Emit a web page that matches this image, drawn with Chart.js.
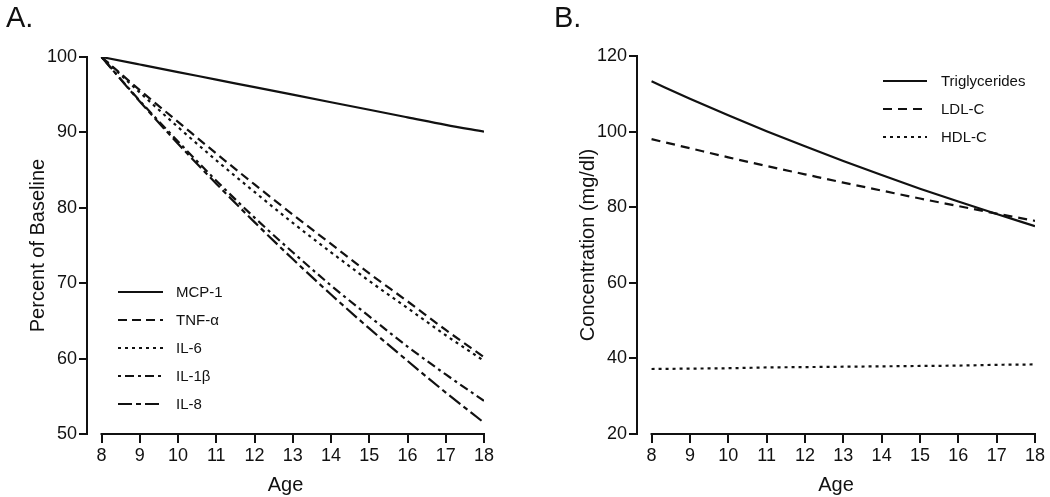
<!DOCTYPE html>
<html>
<head>
<meta charset="utf-8">
<title>Age trends</title>
<script src="https://cdn.jsdelivr.net/npm/chart.js@4.4.1/dist/chart.umd.min.js"></script>
<style>
    body { margin: 0; background: #fff; overflow: hidden; }
    .panel { position: absolute; top: 0; width: 525px; height: 497px; }
    #panel-a { left: 0; }
    #panel-b { left: 525px; }
    .panel-label {
        position: absolute; top: 3px;
        font: 29px "Liberation Sans", Arial, sans-serif;
        line-height: 29px; color: #111;
    }
</style>
</head>
<body>
<div class="panel" id="panel-a">
    <canvas id="chart-a" width="525" height="497"></canvas>
    <div class="panel-label" style="left: 6px;">A.</div>
</div>
<div class="panel" id="panel-b">
    <canvas id="chart-b" width="525" height="497"></canvas>
    <div class="panel-label" style="left: 29px;">B.</div>
</div>
<script>
// x values shared by both panels
const ages = [8, 9, 10, 11, 12, 13, 14, 15, 16, 17, 18];

// Panel A: percent of baseline
const mcp1 = [100, 99, 98, 97, 96, 95, 94, 93, 92, 91, 90.1];
const tnfAlpha = [100, 95.6, 91.4, 87.2, 83.1, 79.1, 75.2, 71.3, 67.6, 63.8, 60.2];
const il6 = [100, 95.3, 90.7, 86.3, 82.1, 78.0, 74.1, 70.3, 66.7, 63.1, 59.7];
const il1Beta = [100, 94.2, 88.8, 83.6, 78.7, 74.1, 69.7, 65.6, 61.6, 57.9, 54.4];
const il8 = [100, 94.1, 88.5, 83.2, 78.1, 73.2, 68.5, 64.0, 59.7, 55.5, 51.5];
const percentTicks = [50, 60, 70, 80, 90, 100];

// Panel B: concentration (mg/dl)
const triglycerides = [113.3, 108.7, 104.3, 100.1, 96.1, 92.2, 88.5, 84.9, 81.5, 78.2, 75.0];
const ldlC = [98.0, 95.6, 93.2, 90.9, 88.7, 86.5, 84.4, 82.3, 80.3, 78.3, 76.4];
const hdlC = [37.2, 37.3, 37.4, 37.6, 37.7, 37.8, 37.9, 38.0, 38.1, 38.3, 38.4];
const concTicks = [20, 40, 60, 80, 100, 120];

const INK = '#111';
const FONT = '"Liberation Sans", Arial, sans-serif';

function series(label, values, dash) {
    return {
        label: label,
        data: ages.map((a, i) => ({ x: a, y: values[i] })),
        borderColor: INK,
        borderWidth: 2.2,
        borderDash: dash,
        pointRadius: 0,
        fill: false,
        cubicInterpolationMode: 'monotone'
    };
}

// Prism-style axis lines: x axis only spans the first to last age
const axisLines = {
    id: 'axisLines',
    beforeDatasetsDraw(chart) {
        const { ctx, chartArea, scales } = chart;
        ctx.save();
        ctx.strokeStyle = INK;
        ctx.lineWidth = 2;
        ctx.setLineDash([]);
        ctx.beginPath();
        ctx.moveTo(scales.x.getPixelForValue(ages[0]) - 1, chartArea.bottom);
        ctx.lineTo(scales.x.getPixelForValue(ages[ages.length - 1]) + 1, chartArea.bottom);
        ctx.moveTo(chartArea.left, chartArea.top - 1);
        ctx.lineTo(chartArea.left, chartArea.bottom + 1);
        ctx.stroke();
        ctx.restore();
    }
};

// legend with line samples that keep the dash patterns
const sketchLegend = {
    id: 'sketchLegend',
    afterDatasetsDraw(chart, args, opts) {
        const { ctx } = chart;
        ctx.save();
        ctx.font = '15px ' + FONT;
        ctx.fillStyle = INK;
        ctx.textBaseline = 'middle';
        chart.data.datasets.forEach((ds, i) => {
            const y = opts.y + i * opts.dy;
            ctx.strokeStyle = INK;
            ctx.lineWidth = 2.2;
            ctx.setLineDash(ds.borderDash || []);
            ctx.beginPath();
            ctx.moveTo(opts.x0, y);
            ctx.lineTo(opts.x1, y);
            ctx.stroke();
            ctx.fillText(ds.label, opts.tx, y + 1);
        });
        ctx.restore();
    }
};

function makeOptions(yMin, yMax, yTicks, yTitle, pad, legendPos) {
    return {
        responsive: false,
        animation: false,
        devicePixelRatio: 1,
        layout: { padding: pad },
        plugins: {
            legend: { display: false },
            tooltip: { enabled: false },
            sketchLegend: legendPos
        },
        scales: {
            x: {
                type: 'linear',
                min: 7.62,
                max: 18,
                afterBuildTicks: scale => { scale.ticks = ages.map(v => ({ value: v })); },
                afterFit: scale => { scale.height = 63; },
                ticks: {
                    color: INK,
                    font: { family: FONT, size: 18 },
                    padding: 2,
                    maxRotation: 0,
                    autoSkip: false
                },
                grid: { drawOnChartArea: false, drawTicks: true, tickLength: 9, color: INK, lineWidth: 2 },
                border: { display: false },
                title: {
                    display: true,
                    text: 'Age',
                    color: INK,
                    font: { family: FONT, size: 20 },
                    padding: { top: 4, bottom: 0 }
                }
            },
            y: {
                type: 'linear',
                min: yMin,
                max: yMax,
                afterBuildTicks: scale => { scale.ticks = yTicks.map(v => ({ value: v })); },
                afterFit: scale => { scale.width = 65; },
                ticks: {
                    color: INK,
                    font: { family: FONT, size: 18 },
                    padding: 2
                },
                grid: { drawOnChartArea: false, drawTicks: true, tickLength: 8, color: INK, lineWidth: 2 },
                border: { display: false },
                title: {
                    display: true,
                    text: yTitle,
                    color: INK,
                    font: { family: FONT, size: 20 },
                    padding: { top: 4, bottom: 4 }
                }
            }
        }
    };
}

new Chart(document.getElementById('chart-a'), {
    type: 'line',
    data: {
        datasets: [
            series('MCP-1', mcp1, []),
            series('TNF-\u03b1', tnfAlpha, [9, 5]),
            series('IL-6', il6, [3, 4]),
            series('IL-1\u03b2', il1Beta, [3, 4, 9, 4]),
            series('IL-8', il8, [14, 4, 5, 4])
        ]
    },
    options: makeOptions(50, 100, percentTicks, 'Percent of Baseline',
        { left: 22, top: 57, right: 41, bottom: 0 },
        { x0: 118, x1: 163, tx: 176, y: 292, dy: 28 }),
    plugins: [axisLines, sketchLegend]
});

new Chart(document.getElementById('chart-b'), {
    type: 'line',
    data: {
        datasets: [
            series('Triglycerides', triglycerides, []),
            series('LDL-C', ldlC, [9, 6]),
            series('HDL-C', hdlC, [3, 4])
        ]
    },
    options: makeOptions(20, 120, concTicks, 'Concentration (mg/dl)',
        { left: 47, top: 56, right: 15, bottom: 0 },
        { x0: 358, x1: 402, tx: 416, y: 81, dy: 28 }),
    plugins: [axisLines, sketchLegend]
});
</script>
</body>
</html>
